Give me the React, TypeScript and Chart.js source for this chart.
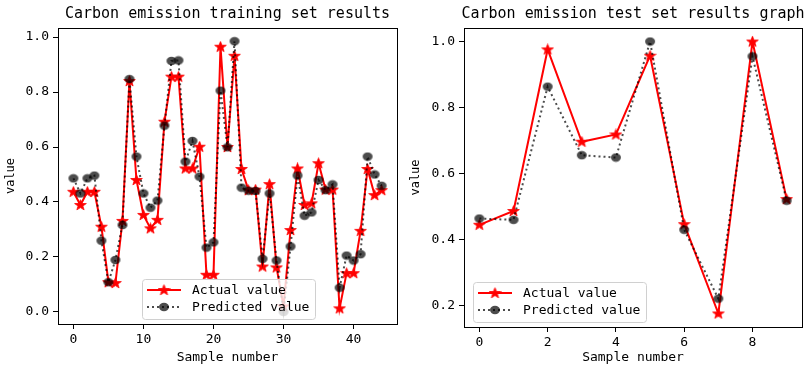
import React, { useEffect, useRef } from "react";
import { Chart, registerables } from "chart.js";

Chart.register(...registerables);

// ---------- data ----------
const trainActual = [
  0.437, 0.389, 0.437, 0.437, 0.31, 0.108, 0.105, 0.331, 0.84, 0.48,
  0.353, 0.304, 0.335, 0.692, 0.856, 0.856, 0.522, 0.522, 0.601, 0.135,
  0.135, 0.965, 0.6, 0.932, 0.52, 0.443, 0.445, 0.165, 0.465, 0.162,
  0.02, 0.298, 0.522, 0.389, 0.395, 0.541, 0.445, 0.445, 0.013, 0.141,
  0.141, 0.295, 0.52, 0.425, 0.443,
];
const trainPredicted = [
  0.486, 0.431, 0.486, 0.496, 0.259, 0.108, 0.189, 0.316, 0.847, 0.565,
  0.431, 0.379, 0.405, 0.678, 0.913, 0.915, 0.547, 0.622, 0.492, 0.234,
  0.253, 0.805, 0.599, 0.985, 0.452, 0.441, 0.44, 0.193, 0.431, 0.187,
  0.0, 0.238, 0.496, 0.35, 0.362, 0.48, 0.443, 0.464, 0.088, 0.205,
  0.187, 0.21, 0.565, 0.5, 0.459,
];
const testActual = [0.444, 0.486, 0.976, 0.696, 0.718, 0.957, 0.446, 0.175, 1.0, 0.522];
const testPredicted = [0.463, 0.459, 0.863, 0.655, 0.648, 1.0, 0.429, 0.22, 0.955, 0.517];

const trainXTicks = [0, 10, 20, 30, 40];
const testXTicks = [0, 2, 4, 6, 8];
const trainYTicks = [0, 0.2, 0.4, 0.6, 0.8, 1.0];
const testYTicks = [0.2, 0.4, 0.6, 0.8, 1.0];

const trainTitle = "Carbon emission training set results";
const testTitle = "Carbon emission test set results graph";
const xLabel = "Sample number";
const yLabel = "value";
const seriesLabels = ["Actual value", "Predicted value"];

// ---------- styles ----------
const MONO = "'DejaVu Sans Mono', 'Liberation Mono', monospace";
const RED = "#ff0000";
const GREY = "rgba(0,0,0,0.7)";

function makeStar(): HTMLCanvasElement {
  const c = document.createElement("canvas");
  c.width = 13;
  c.height = 12;
  const ctx = c.getContext("2d")!;
  ctx.translate(6.5, 6.3);
  ctx.beginPath();
  for (let i = 0; i < 10; i++) {
    const r = i % 2 === 0 ? 5.6 : 2.3;
    const a = -Math.PI / 2 + (i * Math.PI) / 5;
    const x = Math.cos(a) * r * 1.1;
    const y = Math.sin(a) * r;
    if (i === 0) ctx.moveTo(x, y);
    else ctx.lineTo(x, y);
  }
  ctx.closePath();
  ctx.fillStyle = RED;
  ctx.fill();
  ctx.strokeStyle = RED;
  ctx.lineWidth = 0.8;
  ctx.stroke();
  return c;
}

function makeDot(): HTMLCanvasElement {
  const c = document.createElement("canvas");
  c.width = 12;
  c.height = 10;
  const ctx = c.getContext("2d")!;
  ctx.beginPath();
  ctx.ellipse(6, 5, 5, 4.2, 0, 0, Math.PI * 2);
  ctx.fillStyle = GREY;
  ctx.fill();
  return c;
}

interface Cfg {
  title: string;
  actual: number[];
  predicted: number[];
  xTicks: number[];
  yTicks: number[];
  xMin: number;
  xMax: number;
  yMin: number;
  yMax: number;
  yAxisWidth: number;
  xAxisHeight: number;
  padRight: number;
  legendOffsetX: number;
}

function makeChart(canvas: HTMLCanvasElement, cfg: Cfg) {
  const star = makeStar();
  const dot = makeDot();

  const framePlugin = {
    id: "frameLegendTitle",
    afterDatasetsDraw(chart: any) {
      const { ctx, chartArea } = chart;
      const l = Math.round(chartArea.left) + 0.5;
      const t = Math.round(chartArea.top) + 0.5;
      const r = Math.round(chartArea.right) + 0.5;
      const b = Math.round(chartArea.bottom) + 0.5;
      ctx.save();
      ctx.strokeStyle = "#000";
      ctx.lineWidth = 1;
      ctx.strokeRect(l, t, r - l, b - t);

      // title
      ctx.fillStyle = "#000";
      ctx.font = `15px ${MONO}`;
      ctx.textAlign = "center";
      ctx.textBaseline = "middle";
      ctx.fillText(cfg.title, (chartArea.left + chartArea.right) / 2, 14);

      // legend
      const bw = 173;
      const bh = 40;
      const bx = chartArea.left + cfg.legendOffsetX;
      const by = chartArea.bottom - 5 - bh;
      ctx.beginPath();
      (ctx as any).roundRect(bx + 0.5, by + 0.5, bw, bh, 3);
      ctx.fillStyle = "rgba(255,255,255,0.8)";
      ctx.fill();
      ctx.strokeStyle = "#d0d0d0";
      ctx.stroke();

      const lx0 = bx + 5;
      const lx1 = bx + 39;
      const r1 = by + 11;
      const r2 = by + 28;
      ctx.beginPath();
      ctx.moveTo(lx0, r1);
      ctx.lineTo(lx1, r1);
      ctx.strokeStyle = RED;
      ctx.lineWidth = 2;
      ctx.stroke();
      ctx.drawImage(star, (lx0 + lx1) / 2 - star.width / 2, r1 - star.height / 2);

      ctx.beginPath();
      ctx.setLineDash([2, 3]);
      ctx.moveTo(lx0, r2);
      ctx.lineTo(lx1, r2);
      ctx.strokeStyle = GREY;
      ctx.lineWidth = 2;
      ctx.stroke();
      ctx.setLineDash([]);
      ctx.drawImage(dot, (lx0 + lx1) / 2 - dot.width / 2, r2 - dot.height / 2);

      ctx.fillStyle = "#000";
      ctx.font = `13px ${MONO}`;
      ctx.textAlign = "left";
      ctx.fillText(seriesLabels[0], bx + 50, r1 + 0.5);
      ctx.fillText(seriesLabels[1], bx + 50, r2 + 0.5);
      ctx.restore();
    },
  };

  return new Chart(canvas, {
    type: "scatter",
    data: {
      datasets: [
        {
          label: seriesLabels[0],
          data: cfg.actual.map((v, i) => ({ x: i, y: v })),
          showLine: true,
          borderColor: RED,
          backgroundColor: RED,
          borderWidth: 2,
          pointStyle: star as any,
          pointRadius: 5,
          order: 2,
        },
        {
          label: seriesLabels[1],
          data: cfg.predicted.map((v, i) => ({ x: i, y: v })),
          showLine: true,
          borderColor: GREY,
          backgroundColor: GREY,
          borderWidth: 2,
          borderDash: [2, 3],
          pointStyle: dot as any,
          pointRadius: 5,
          order: 1,
        },
      ],
    },
    options: {
      responsive: false,
      animation: false,
      layout: { padding: { left: 0, right: cfg.padRight, top: 28, bottom: 0 } },
      plugins: { legend: { display: false }, title: { display: false }, tooltip: { enabled: false } },
      scales: {
        x: {
          type: "linear",
          min: cfg.xMin,
          max: cfg.xMax,
          afterBuildTicks: (s: any) => {
            s.ticks = cfg.xTicks.map((v) => ({ value: v }));
          },
          afterFit: (s: any) => {
            s.height = cfg.xAxisHeight;
          },
          ticks: {
            callback: (v: any) => String(v),
            color: "#000",
            font: { family: MONO, size: 13 },
            padding: 3,
            maxRotation: 0,
            autoSkip: false,
          },
          grid: { display: true, drawOnChartArea: false, drawTicks: true, tickLength: 5, color: "#000" },
          border: { display: false },
          title: { display: true, text: xLabel, color: "#000", font: { family: MONO, size: 13 }, padding: 1 },
        },
        y: {
          type: "linear",
          min: cfg.yMin,
          max: cfg.yMax,
          afterBuildTicks: (s: any) => {
            s.ticks = cfg.yTicks.map((v) => ({ value: v }));
          },
          afterFit: (s: any) => {
            s.width = cfg.yAxisWidth;
          },
          ticks: {
            callback: (v: any) => Number(v).toFixed(1),
            color: "#000",
            font: { family: MONO, size: 13 },
            padding: 4,
            autoSkip: false,
          },
          grid: { display: true, drawOnChartArea: false, drawTicks: true, tickLength: 5, color: "#000" },
          border: { display: false },
          title: { display: true, text: yLabel, color: "#000", font: { family: MONO, size: 12 }, padding: 4 },
        },
      },
    },
    plugins: [framePlugin],
  } as any);
}

export default function App() {
  const leftRef = useRef<HTMLCanvasElement>(null);
  const rightRef = useRef<HTMLCanvasElement>(null);

  useEffect(() => {
    const c1 = makeChart(leftRef.current!, {
      title: trainTitle,
      actual: trainActual,
      predicted: trainPredicted,
      xTicks: trainXTicks,
      yTicks: trainYTicks,
      xMin: -2.2,
      xMax: 46.2,
      yMin: -0.044,
      yMax: 1.033,
      yAxisWidth: 58,
      xAxisHeight: 42,
      padRight: 8,
      legendOffsetX: 84,
    });
    const c2 = makeChart(rightRef.current!, {
      title: testTitle,
      actual: testActual,
      predicted: testPredicted,
      xTicks: testXTicks,
      yTicks: testYTicks,
      xMin: -0.45,
      xMax: 9.45,
      yMin: 0.134,
      yMax: 1.041,
      yAxisWidth: 59,
      xAxisHeight: 39,
      padRight: 9,
      legendOffsetX: 9,
    });
    return () => {
      c1.destroy();
      c2.destroy();
    };
  }, []);

  return (
    <div style={{ position: "absolute", left: 0, top: 0, width: 811, height: 366, background: "#fff" }}>
      <canvas ref={leftRef} width={405} height={366} style={{ position: "absolute", left: 0, top: 0 }} />
      <canvas ref={rightRef} width={406} height={366} style={{ position: "absolute", left: 405, top: 0 }} />
    </div>
  );
}
